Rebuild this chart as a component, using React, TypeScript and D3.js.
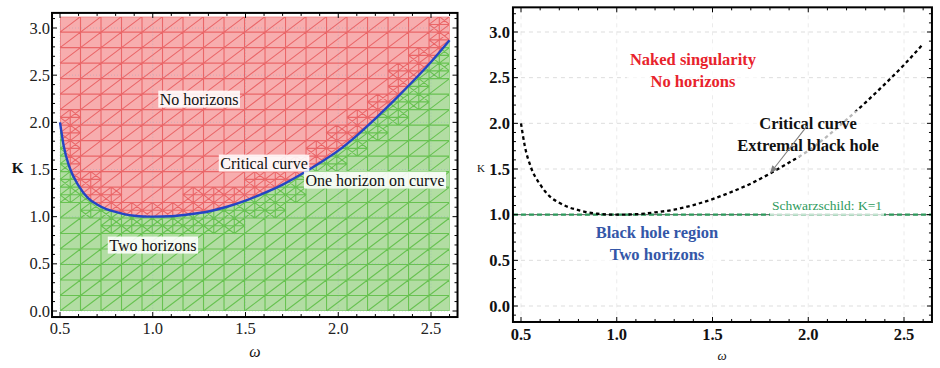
import React, { useLayoutEffect, useRef, useState } from "react";
import * as d3 from "d3";

// Critical curve K(ω): boundary between the naked-singularity and two-horizon regimes
const omega = [0.5, 0.52, 0.55, 0.6, 0.65, 0.7, 0.75, 0.8, 0.85, 0.9, 0.95, 1.0, 1.1, 1.2, 1.3, 1.4, 1.5, 1.6, 1.7, 1.8, 1.9, 2.0, 2.1, 2.2, 2.3, 2.4, 2.5, 2.6];
const kCritical = [2.0, 1.75, 1.53, 1.33, 1.2, 1.13, 1.08, 1.05, 1.025, 1.01, 1.002, 1.0, 1.005, 1.025, 1.055, 1.105, 1.17, 1.25, 1.34, 1.45, 1.57, 1.7, 1.86, 2.04, 2.23, 2.43, 2.64, 2.87];

const omegaTicks = [0.5, 1.0, 1.5, 2.0, 2.5];
const omegaTickLabels = ["0.5", "1.0", "1.5", "2.0", "2.5"];
const kTicks = [0, 0.5, 1.0, 1.5, 2.0, 2.5, 3.0];
const kTickLabels = ["0.0", "0.5", "1.0", "1.5", "2.0", "2.5", "3.0"];
const schwarzschildK = 1;
const arrowTipOmega = 1.8;

const regionLabels = [
  { lines: ["No horizons"], omega: 1.25, k: 2.247 },
  { lines: ["Critical curve"], omega: 1.6, k: 1.569 },
  { lines: ["One horizon on curve"], omega: 2.198, k: 1.389 },
  { lines: ["Two horizons"], omega: 1.001, k: 0.7 },
];

const phaseLabels = [
  { lines: ["Naked singularity", "No horizons"], omega: 1.398, k: 2.704, color: "#e8232c" },
  { lines: ["Critical curve", "Extremal black hole"], omega: 1.999, k: 2.004, color: "#111111" },
  { lines: ["Black hole region", "Two horizons"], omega: 1.21, k: 0.81, color: "#3457a8" },
];

const SERIF = "Liberation Serif, Times New Roman, serif";

type BoxedProps = {
  x: number;
  y: number;
  lines: string[];
  fontSize: number;
  weight?: string;
  fill: string;
  gap: number;
  boxOpacity: number;
  padX: number;
  padY: number;
};

function BoxedText({ x, y, lines, fontSize, weight = "normal", fill, gap, boxOpacity, padX, padY }: BoxedProps) {
  const ref = useRef<SVGTextElement>(null);
  const [bb, setBb] = useState<{ x: number; y: number; width: number; height: number } | null>(null);
  useLayoutEffect(() => {
    if (ref.current) {
      const b = ref.current.getBBox();
      setBb({ x: b.x, y: b.y, width: b.width, height: b.height });
    }
  }, [x, y, fontSize]);
  return (
    <g>
      {bb && (
        <rect
          x={bb.x - padX}
          y={bb.y - padY}
          width={bb.width + 2 * padX}
          height={bb.height + 2 * padY}
          fill="#ffffff"
          fillOpacity={boxOpacity}
        />
      )}
      <text
        ref={ref}
        x={x}
        y={y}
        style={{ fontFamily: SERIF }}
        fontSize={fontSize}
        fontWeight={weight}
        fill={fill}
        textAnchor="middle"
      >
        {lines.map((l, i) => (
          <tspan key={i} x={x} dy={i === 0 ? "0.35em" : gap}>
            {l}
          </tspan>
        ))}
      </text>
    </g>
  );
}

function FrameTicks({
  x0, x1, y0, y1, xs, xsMinor, ys, ysMinor, sx, sy, major, minor, width,
}: {
  x0: number; x1: number; y0: number; y1: number;
  xs: number[]; xsMinor: number[]; ys: number[]; ysMinor: number[];
  sx: (v: number) => number; sy: (v: number) => number;
  major: number; minor: number; width: number;
}) {
  const isMajor = (v: number, arr: number[]) => arr.some((a) => Math.abs(a - v) < 1e-6);
  return (
    <g stroke="#000" strokeWidth={1}>
      {xsMinor.map((v, i) => {
        const L = isMajor(v, xs) ? major : minor;
        const px = sx(v);
        return (
          <g key={"x" + i}>
            <line x1={px} x2={px} y1={y1} y2={y1 - L} />
            <line x1={px} x2={px} y1={y0} y2={y0 + L} />
          </g>
        );
      })}
      {ysMinor.map((v, i) => {
        const L = isMajor(v, ys) ? major : minor;
        const py = sy(v);
        return (
          <g key={"y" + i}>
            <line x1={x0} x2={x0 + L} y1={py} y2={py} />
            <line x1={x1} x2={x1 - L} y1={py} y2={py} />
          </g>
        );
      })}
      <rect x={x0} y={y0} width={x1 - x0} height={y1 - y0} fill="none" strokeWidth={width} />
    </g>
  );
}

function RegionPanel() {
  const xL = d3.scaleLinear().domain([0.5, 2.5]).range([60, 431]);
  const yL = d3.scaleLinear().domain([0, 3]).range([311, 28]);
  const wMin = 0.5, wMax = 2.6, kMin = 0, kMax = 3.12;
  const fx0 = xL(0.457), fx1 = xL(2.643), fy0 = yL(3.16), fy1 = yL(-0.064);

  const pts = omega.map((w, i) => [w, kCritical[i]] as [number, number]);
  const above = d3.area<[number, number]>()
    .x((d) => xL(d[0])).y0(yL(kMax)).y1((d) => yL(d[1])).curve(d3.curveMonotoneX)(pts) || "";
  const below = d3.area<[number, number]>()
    .x((d) => xL(d[0])).y0(yL(kMin)).y1((d) => yL(d[1])).curve(d3.curveMonotoneX)(pts) || "";
  const curve = d3.line<[number, number]>()
    .x((d) => xL(d[0])).y((d) => yL(d[1])).curve(d3.curveMonotoneX)(pts) || "";

  // Triangulated sampling mesh, refined where cells straddle the boundary
  const nx = 19, ny = 19;
  const gx0 = xL(wMin), gx1 = xL(wMax), gy0 = yL(kMax), gy1 = yL(kMin);
  const cw = (gx1 - gx0) / nx, ch = (gy1 - gy0) / ny;
  const kAt = (w: number) => {
    const i = Math.max(1, Math.min(omega.length - 1, d3.bisectLeft(omega, w)));
    const t = (w - omega[i - 1]) / (omega[i] - omega[i - 1]);
    return kCritical[i - 1] + t * (kCritical[i] - kCritical[i - 1]);
  };
  const segs: string[] = [];
  for (let i = 0; i <= nx; i++) segs.push(`M${gx0 + i * cw},${gy0}V${gy1}`);
  for (let j = 0; j <= ny; j++) segs.push(`M${gx0},${gy0 + j * ch}H${gx1}`);
  for (let i = 0; i < nx; i++) {
    for (let j = 0; j < ny; j++) {
      const ax = gx0 + i * cw, ay = gy0 + j * ch;
      segs.push(`M${ax},${ay + ch}L${ax + cw},${ay}`);
      const wa = xL.invert(ax), wb = xL.invert(ax + cw);
      const samples = [wa, (wa + wb) / 2, wb, ...omega.filter((w) => w > wa && w < wb)].map((w) => yL(kAt(w)));
      const lo = d3.min(samples)! - ch * 0.7, hi = d3.max(samples)! + ch * 0.7;
      if (hi >= ay && lo <= ay + ch) {
        const mx = ax + cw / 2, my = ay + ch / 2;
        segs.push(`M${mx},${ay}V${ay + ch}M${ax},${my}H${ax + cw}`);
        segs.push(`M${mx},${ay}L${ax + cw},${my}L${mx},${ay + ch}L${ax},${my}Z`);
      }
    }
  }
  const mesh = segs.join("");

  const minorW = d3.range(5, 27).map((v) => v / 10);
  const minorK = d3.range(0, 32).map((v) => v / 10);

  return (
    <g>
      <defs>
        <clipPath id="clipAbove"><path d={above} /></clipPath>
        <clipPath id="clipBelow"><path d={below} /></clipPath>
      </defs>
      <path d={above} fill="#f7adae" />
      <path d={below} fill="#b2dda3" />
      <g clipPath="url(#clipAbove)">
        <path d={mesh} fill="none" stroke="#e8595c" strokeOpacity={0.85} strokeWidth={1.1} />
      </g>
      <g clipPath="url(#clipBelow)">
        <path d={mesh} fill="none" stroke="#5fbf48" strokeOpacity={0.9} strokeWidth={1.1} />
      </g>
      {/* faint grid at major ticks */}
      <g stroke="#8aa6c0" strokeOpacity={0.45} strokeWidth={0.8} strokeDasharray="1,2">
        {omegaTicks.map((v) => (
          <line key={"gw" + v} x1={xL(v)} x2={xL(v)} y1={gy0} y2={gy1} />
        ))}
        {kTicks.map((v) => (
          <line key={"gk" + v} x1={gx0} x2={gx1} y1={yL(v)} y2={yL(v)} />
        ))}
      </g>
      <path d={curve} fill="none" stroke="#2545c4" strokeWidth={2.4} />
      {regionLabels.map((l, i) => (
        <BoxedText
          key={i}
          x={xL(l.omega)}
          y={yL(l.k)}
          lines={l.lines}
          fontSize={16}
          fill="#111"
          gap={18}
          boxOpacity={0.88}
          padX={1.5}
          padY={0}
        />
      ))}
      <FrameTicks
        x0={fx0} x1={fx1} y0={fy0} y1={fy1}
        xs={omegaTicks} xsMinor={minorW} ys={kTicks} ysMinor={minorK}
        sx={xL} sy={yL} major={5} minor={3} width={2}
      />
      <g style={{ fontFamily: SERIF }} fontSize={16.5} fill="#222">
        {omegaTicks.map((v, i) => (
          <text key={v} x={xL(v)} y={fy1 + 17} textAnchor="middle">{omegaTickLabels[i]}</text>
        ))}
        {kTicks.map((v, i) => (
          <text key={v} x={fx0 - 2} y={yL(v) + 5.5} textAnchor="end">{kTickLabels[i]}</text>
        ))}
      </g>
      <text x={17.5} y={173} style={{ fontFamily: SERIF }} fontSize={15} fontWeight="bold" textAnchor="middle" fill="#111">K</text>
      <text x={255} y={357} style={{ fontFamily: SERIF }} fontSize={16} fontStyle="italic" textAnchor="middle" fill="#111">ω</text>
    </g>
  );
}

function PhasePanel() {
  const xR = d3.scaleLinear().domain([0.5, 2.5]).range([521, 904]);
  const yR = d3.scaleLinear().domain([0, 3]).range([306, 32]);
  const fx0 = xR(0.458), fx1 = xR(2.646), fy0 = yR(3.27), fy1 = yR(-0.175);

  const pts = omega.map((w, i) => [w, kCritical[i]] as [number, number]);
  const curve = d3.line<[number, number]>()
    .x((d) => xR(d[0])).y((d) => yR(d[1])).curve(d3.curveMonotoneX)(pts) || "";

  const tipIdx = omega.indexOf(arrowTipOmega);
  const tip: [number, number] = [xR(omega[tipIdx]), yR(kCritical[tipIdx])];
  const tail: [number, number] = [xR(1.993), yR(1.97)];
  const ang = Math.atan2(tip[1] - tail[1], tip[0] - tail[0]);
  const ah = 8, aw = 3.2;
  const base: [number, number] = [tip[0] - ah * Math.cos(ang), tip[1] - ah * Math.sin(ang)];
  const head = `M${tip[0]},${tip[1]}L${base[0] - aw * Math.sin(ang)},${base[1] + aw * Math.cos(ang)}L${base[0] + aw * Math.sin(ang)},${base[1] - aw * Math.cos(ang)}Z`;

  const minorW = d3.range(5, 27).map((v) => v / 10);
  const minorK = d3.range(-1, 33).map((v) => v / 10);

  return (
    <g>
      <g stroke="#d9d9d9" strokeWidth={0.9} strokeDasharray="4,4">
        {omegaTicks.map((v) => (
          <line key={"gw" + v} x1={xR(v)} x2={xR(v)} y1={fy0} y2={fy1} strokeOpacity={0.6} />
        ))}
        {kTicks.map((v) => (
          <line key={"gk" + v} x1={fx0} x2={fx1} y1={yR(v)} y2={yR(v)} />
        ))}
      </g>
      <line x1={fx0} x2={fx1} y1={yR(schwarzschildK)} y2={yR(schwarzschildK)} stroke="#555" strokeWidth={1} />
      <line
        x1={fx0}
        x2={fx1}
        y1={yR(schwarzschildK)}
        y2={yR(schwarzschildK)}
        stroke="#2e9a5c"
        strokeWidth={2.4}
        strokeDasharray="5,3"
      />
      <path d={curve} fill="none" stroke="#000" strokeWidth={2.3} strokeDasharray="3.5,3" />
      {phaseLabels.map((l, i) => (
        <BoxedText
          key={i}
          x={xR(l.omega)}
          y={yR(l.k)}
          lines={l.lines}
          fontSize={16.5}
          weight="bold"
          fill={l.color}
          gap={22}
          boxOpacity={0.72}
          padX={3}
          padY={3}
        />
      ))}
      <BoxedText
        x={xR(2.098)}
        y={yR(1.106)}
        lines={["Schwarzschild: K=1"]}
        fontSize={13.5}
        fill="#2e9a5c"
        gap={16}
        boxOpacity={0.72}
        padX={2}
        padY={3}
      />
      <line x1={tail[0]} y1={tail[1]} x2={base[0]} y2={base[1]} stroke="#808080" strokeWidth={1.1} />
      <path d={head} fill="#808080" />
      <FrameTicks
        x0={fx0} x1={fx1} y0={fy0} y1={fy1}
        xs={omegaTicks} xsMinor={minorW} ys={kTicks} ysMinor={minorK}
        sx={xR} sy={yR} major={5} minor={3} width={2}
      />
      <g style={{ fontFamily: SERIF }} fontSize={16.5} fontWeight="bold" fill="#111">
        {omegaTicks.map((v, i) => (
          <text key={v} x={xR(v)} y={fy1 + 18} textAnchor="middle">{omegaTickLabels[i]}</text>
        ))}
        {kTicks.map((v, i) => (
          <text key={v} x={fx0 - 3} y={yR(v) + 5.5} textAnchor="end">{kTickLabels[i]}</text>
        ))}
      </g>
      <text x={481} y={172} style={{ fontFamily: SERIF }} fontSize={11} textAnchor="middle" fill="#111">K</text>
      <text x={722} y={360} style={{ fontFamily: SERIF }} fontSize={13} fontStyle="italic" textAnchor="middle" fill="#111">ω</text>
    </g>
  );
}

export default function App() {
  return (
    <svg
      width={940}
      height={368}
      viewBox="0 0 940 368"
      style={{ position: "absolute", left: 0, top: 0, background: "#fff" }}
    >
      <rect width={940} height={368} fill="#fff" />
      <RegionPanel />
      <PhasePanel />
    </svg>
  );
}
